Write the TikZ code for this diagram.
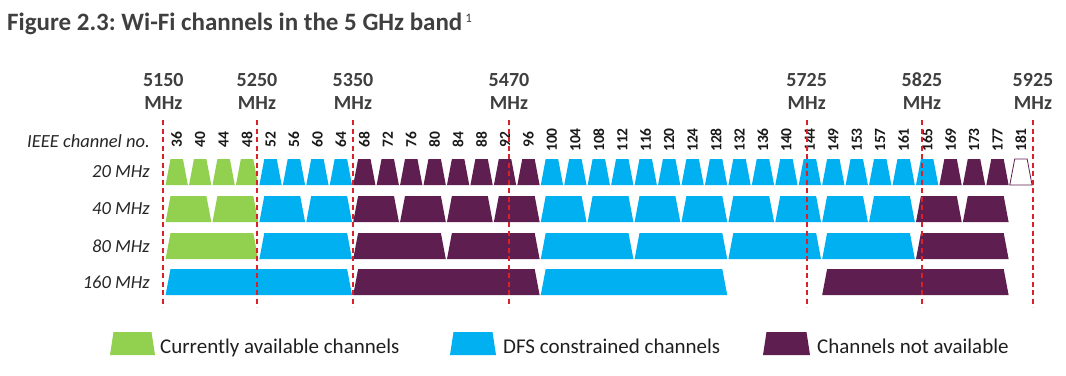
\documentclass[tikz,border=0pt]{standalone}
\usepackage{fontspec}
\setmainfont{Carlito}
\usepackage{tikz}
\usetikzlibrary{positioning}
\frenchspacing

\definecolor{chgreen}{HTML}{92D050}
\definecolor{chblue}{HTML}{00B0F0}
\definecolor{chpurple}{HTML}{5F1E50}
\definecolor{bandred}{HTML}{DA2129}
\definecolor{txtgray}{HTML}{3F3F3F}

% one channel block: options, first slot, number of slots, top of the row
\newcommand{\chanblock}[4]{\path[#1] ({165+23.45*#2+0.6},{#4+26}) -- ({165+23.45*(#2+#3)-0.6},{#4+26}) -- ({165+23.45*(#2+#3)-5.5},#4) -- ({165+23.45*#2+5.5},#4) -- cycle;}

\tikzset{
	freqlbl/.style={font=\bfseries\fontsize{20}{23}\selectfont, text=txtgray, align=center, inner sep=0pt},
	rowlbl/.style={font=\itshape\fontsize{18.5}{20}\selectfont, text=black!85, anchor=east, inner sep=0pt},
	chnum/.style={font=\bfseries\fontsize{15.5}{17}\selectfont, text=black!90, rotate=90, inner sep=0pt},
	bandline/.style={bandred, line width=1.8pt, dash pattern=on 5pt off 3.5pt},
	legtext/.style={font=\fontsize{21}{24}\selectfont, text=black!88, anchor=base west, inner sep=0pt},
}

\begin{document}
\begin{tikzpicture}[x=1pt,y=-1pt]
	
	\useasboundingbox (0,0) rectangle (1066,375);
	
	\node[anchor=base west, inner sep=0pt, font=\bfseries\fontsize{25}{28}\selectfont, text=txtgray] (title) at (7,30) {Figure 2.3: Wi-Fi channels in the 5 GHz band\kern3pt\raisebox{8pt}{\mdseries\fontsize{13}{14}\selectfont 1}};
	
	% row labels
	\node[rowlbl] (ieee) at (150,141) {IEEE channel no.};
	\node[rowlbl] (w20) at (150,172) {20 MHz};
	\node[rowlbl] (w40) at (150,209) {40 MHz};
	\node[rowlbl] (w80) at (150,246) {80 MHz};
	\node[rowlbl] (w160) at (150,282.5) {160 MHz};
	
	% channel numbers
	\foreach \n [count=\i from 0] in {36,40,44,48,52,56,60,64,68,72,76,80,84,88,92,96,100,104,108,112,116,120,124,128,132,136,140,144,149,153,157,161,165,169,173,177,181}
		\node[chnum] (c\n) at ({165+23.45*(\i+0.5)},140) {\n};
	
	% 20 MHz
	\foreach \s in {0,...,3} {\chanblock{fill=chgreen}{\s}{1}{159}}
	\foreach \s in {4,...,7,16,17,...,32} {\chanblock{fill=chblue}{\s}{1}{159}}
	\foreach \s in {8,...,15,33,34,35} {\chanblock{fill=chpurple}{\s}{1}{159}}
	\chanblock{fill=white, draw=chpurple, line width=0.8pt}{36}{1}{159}
	
	% 40 MHz
	\foreach \s in {0,2} {\chanblock{fill=chgreen}{\s}{2}{196}}
	\foreach \s in {4,6,16,18,...,30} {\chanblock{fill=chblue}{\s}{2}{196}}
	\foreach \s in {8,10,12,14,32,34} {\chanblock{fill=chpurple}{\s}{2}{196}}
	
	% 80 MHz
	\chanblock{fill=chgreen}{0}{4}{233}
	\foreach \s in {4,16,20,24,28} {\chanblock{fill=chblue}{\s}{4}{233}}
	\foreach \s in {8,12,32} {\chanblock{fill=chpurple}{\s}{4}{233}}
	
	% 160 MHz
	\foreach \s in {0,16} {\chanblock{fill=chblue}{\s}{8}{269}}
	\foreach \s in {8,28} {\chanblock{fill=chpurple}{\s}{8}{269}}
	
	% band edges
	\foreach \x/\f in {163.3/5150,257/5250,353/5350,509/5470,806.7/5725,922/5825,1033/5925} {
		\node[freqlbl] (f\f) at (\x,91) {\f\\MHz};
		\draw[bandline] (\x,120) -- (\x,307);
	}
	
	% legend
	\fill[chgreen] (110,355) -- (155,355) -- (151.5,332) -- (113.5,332) -- cycle;
	\fill[chblue] (450,355) -- (496,355) -- (492.5,332) -- (453.5,332) -- cycle;
	\fill[chpurple] (763,355) -- (810,355) -- (806.5,332) -- (766.5,332) -- cycle;
	\node[legtext] (lgreen) at (160,353) {Currently available channels};
	\node[legtext] (lblue) at (503,353) {DFS constrained channels};
	\node[legtext] (lpurple) at (817,353) {Channels not available};
	
\end{tikzpicture}
\end{document}
